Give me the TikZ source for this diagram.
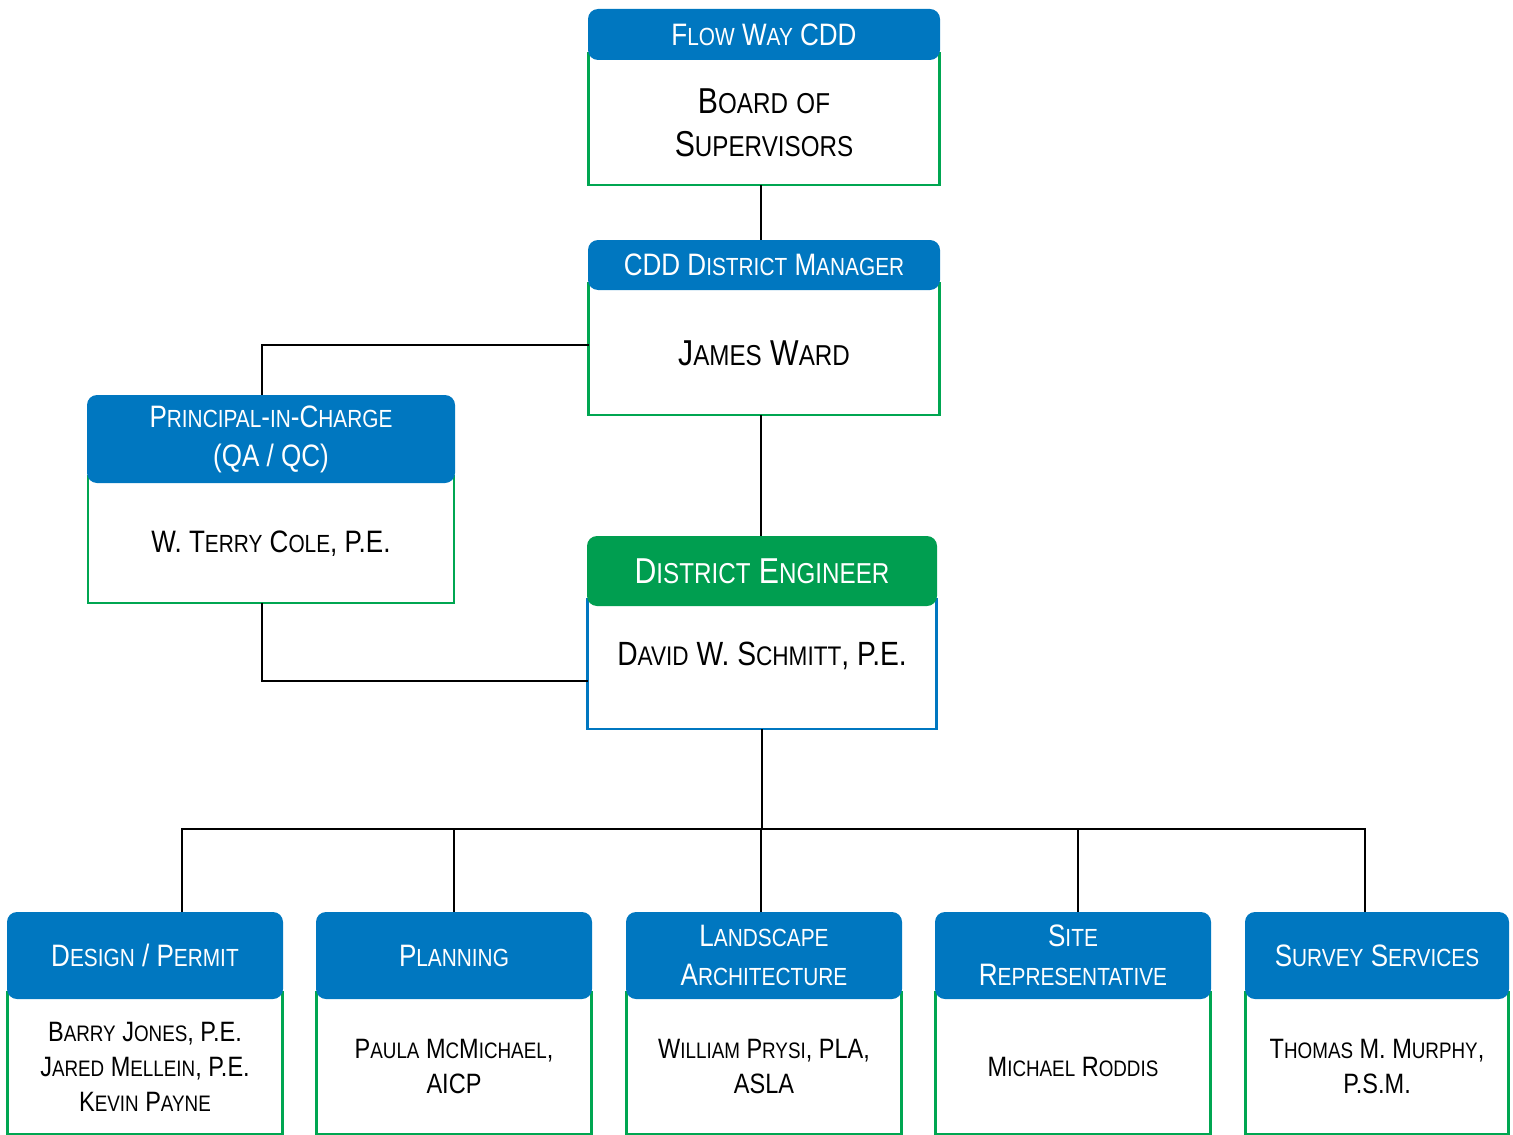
\documentclass[tikz,border=0pt]{standalone}
\usepackage{fontspec}
\setmainfont{Liberation Sans}[FakeStretch=0.84]
\newfontfamily\scfont{Liberation Sans}[Scale=0.8,FakeStretch=0.84]
\usepackage{tikz}
\usetikzlibrary{positioning,backgrounds}
\definecolor{hdblue}{RGB}{0,119,192}
\definecolor{hdgreen}{RGB}{0,158,80}
\definecolor{frgreen}{RGB}{0,166,81}
% small caps: lower case letters set as smaller capitals
\newcommand\fscsmall[1]{{\scfont\MakeUppercase{#1}}}
\ExplSyntaxOn
\NewDocumentCommand\fsc{m}
 {
  \tl_set:Nn \l_tmpa_tl {#1}
  \regex_replace_all:nnN { ([a-z]+) } { \c{fscsmall} \cB\{ \1 \cE\} } \l_tmpa_tl
  \tl_use:N \l_tmpa_tl
 }
\ExplSyntaxOff
\tikzstyle{head} = [rectangle, rounded corners=5pt, fill=hdblue, text=white,
                    align=center, inner sep=2pt,
                    font=\fontsize{15.5}{19.5}\selectfont]
\tikzstyle{body} = [rectangle, align=center, inner sep=2pt,
                    font=\fontsize{18}{21.5}\selectfont]
\tikzstyle{frame} = [line width=1.25pt]
\tikzstyle{link} = [line width=1pt, black]

\begin{document}
\begin{tikzpicture}[x=0.5pt, y=-0.5pt,
  lowbody/.style={body, minimum width=137pt, minimum height=67pt, font=\fontsize{14}{17.5}\selectfont},
  lowhead/.style={head, minimum width=138pt, minimum height=43.5pt}]
\useasboundingbox (0,0) rectangle (1513,1134);

%Board
\node[head, minimum width=176pt, minimum height=25.5pt] at (764,34.5) (board) {\fsc{Flow Way CDD}};
\node[body, below=0pt of board, minimum width=175pt, minimum height=62pt] (boardb) {\fsc{Board of\\Supervisors}};

%Manager
\node[head, minimum width=176pt, minimum height=25pt] at (764,265) (mgr) {\fsc{CDD District Manager}};
\node[body, below=0pt of mgr, minimum width=175pt, minimum height=62pt] (mgrb) {\fsc{James Ward}};

%Principal
\node[head, minimum width=184pt, minimum height=44pt] at (271,439) (pic) {\fsc{Principal-in-Charge\\(QA / QC)}};
\node[body, below=0pt of pic, minimum width=182.5pt, minimum height=59.5pt,
      font=\fontsize{15.5}{19}\selectfont] (picb) {\fsc{W. Terry Cole, P.E.}};

%Engineer
\node[head, fill=hdgreen, minimum width=175pt, minimum height=35pt,
      font=\fontsize{18}{21}\selectfont] at (762,571) (de) {\fsc{District Engineer}};
\node[body, below=0pt of de, minimum width=174pt, minimum height=61pt, text depth=14pt,
      font=\fontsize{16.8}{20}\selectfont] (deb) {\fsc{David W. Schmitt, P.E.}};

% Bottom row
\node[lowhead] at (145,955.5) (design) {\fsc{Design / Permit}};
\node[lowbody, below=0pt of design] (designb) {\fsc{Barry Jones, P.E.\\Jared Mellein, P.E.\\Kevin Payne}};
\node[lowhead] at (454,955.5) (planning) {\fsc{Planning}};
\node[lowbody, below=0pt of planning] (planningb) {\fsc{Paula McMichael,\\AICP}};
\node[lowhead] at (764,955.5) (land) {\fsc{Landscape\\Architecture}};
\node[lowbody, below=0pt of land] (landb) {\fsc{William Prysi, PLA,\\ASLA}};
\node[lowhead] at (1073,955.5) (site) {\fsc{Site\\Representative}};
\node[lowbody, below=0pt of site] (siteb) {\fsc{Michael Roddis}};
\node[lowhead, minimum width=132pt] at (1377,955.5) (survey) {\fsc{Survey Services}};
\node[lowbody, below=0pt of survey, minimum width=131pt] (surveyb) {\fsc{Thomas M. Murphy,\\P.S.M.}};

% Frames
\begin{scope}[on background layer]
\foreach \b/\c in {boardb/frgreen, mgrb/frgreen, picb/frgreen, deb/hdblue, designb/frgreen,
                   planningb/frgreen, landb/frgreen, siteb/frgreen, surveyb/frgreen}
  \draw[frame, draw=\c] ([yshift=4pt]\b.north west) |- (\b.south east) -- ([yshift=4pt]\b.north east);
\end{scope}

% Links
\draw[link] ([xshift=-1.5pt]boardb.south) -- ([xshift=-1.5pt]boardb.south |- mgr.north);
\draw[link] ([yshift=4pt]mgrb.west) -| ([xshift=-4.5pt]pic.north);
\draw[link] ([xshift=-4.5pt]picb.south) |- ([yshift=-6.5pt]deb.west);
\draw[link] ([xshift=-1.5pt]mgrb.south) -- ([xshift=-1.5pt]mgrb.south |- de.north);
\draw[link] (deb.south) -- ++(0,100) coordinate (bus);
\foreach \n/\s in {design/18.5pt, planning/0pt, land/-1.5pt, site/2.5pt, survey/-6pt}
  \draw[link] (bus) -| ([xshift=\s]\n.north);
\end{tikzpicture}
\end{document}
